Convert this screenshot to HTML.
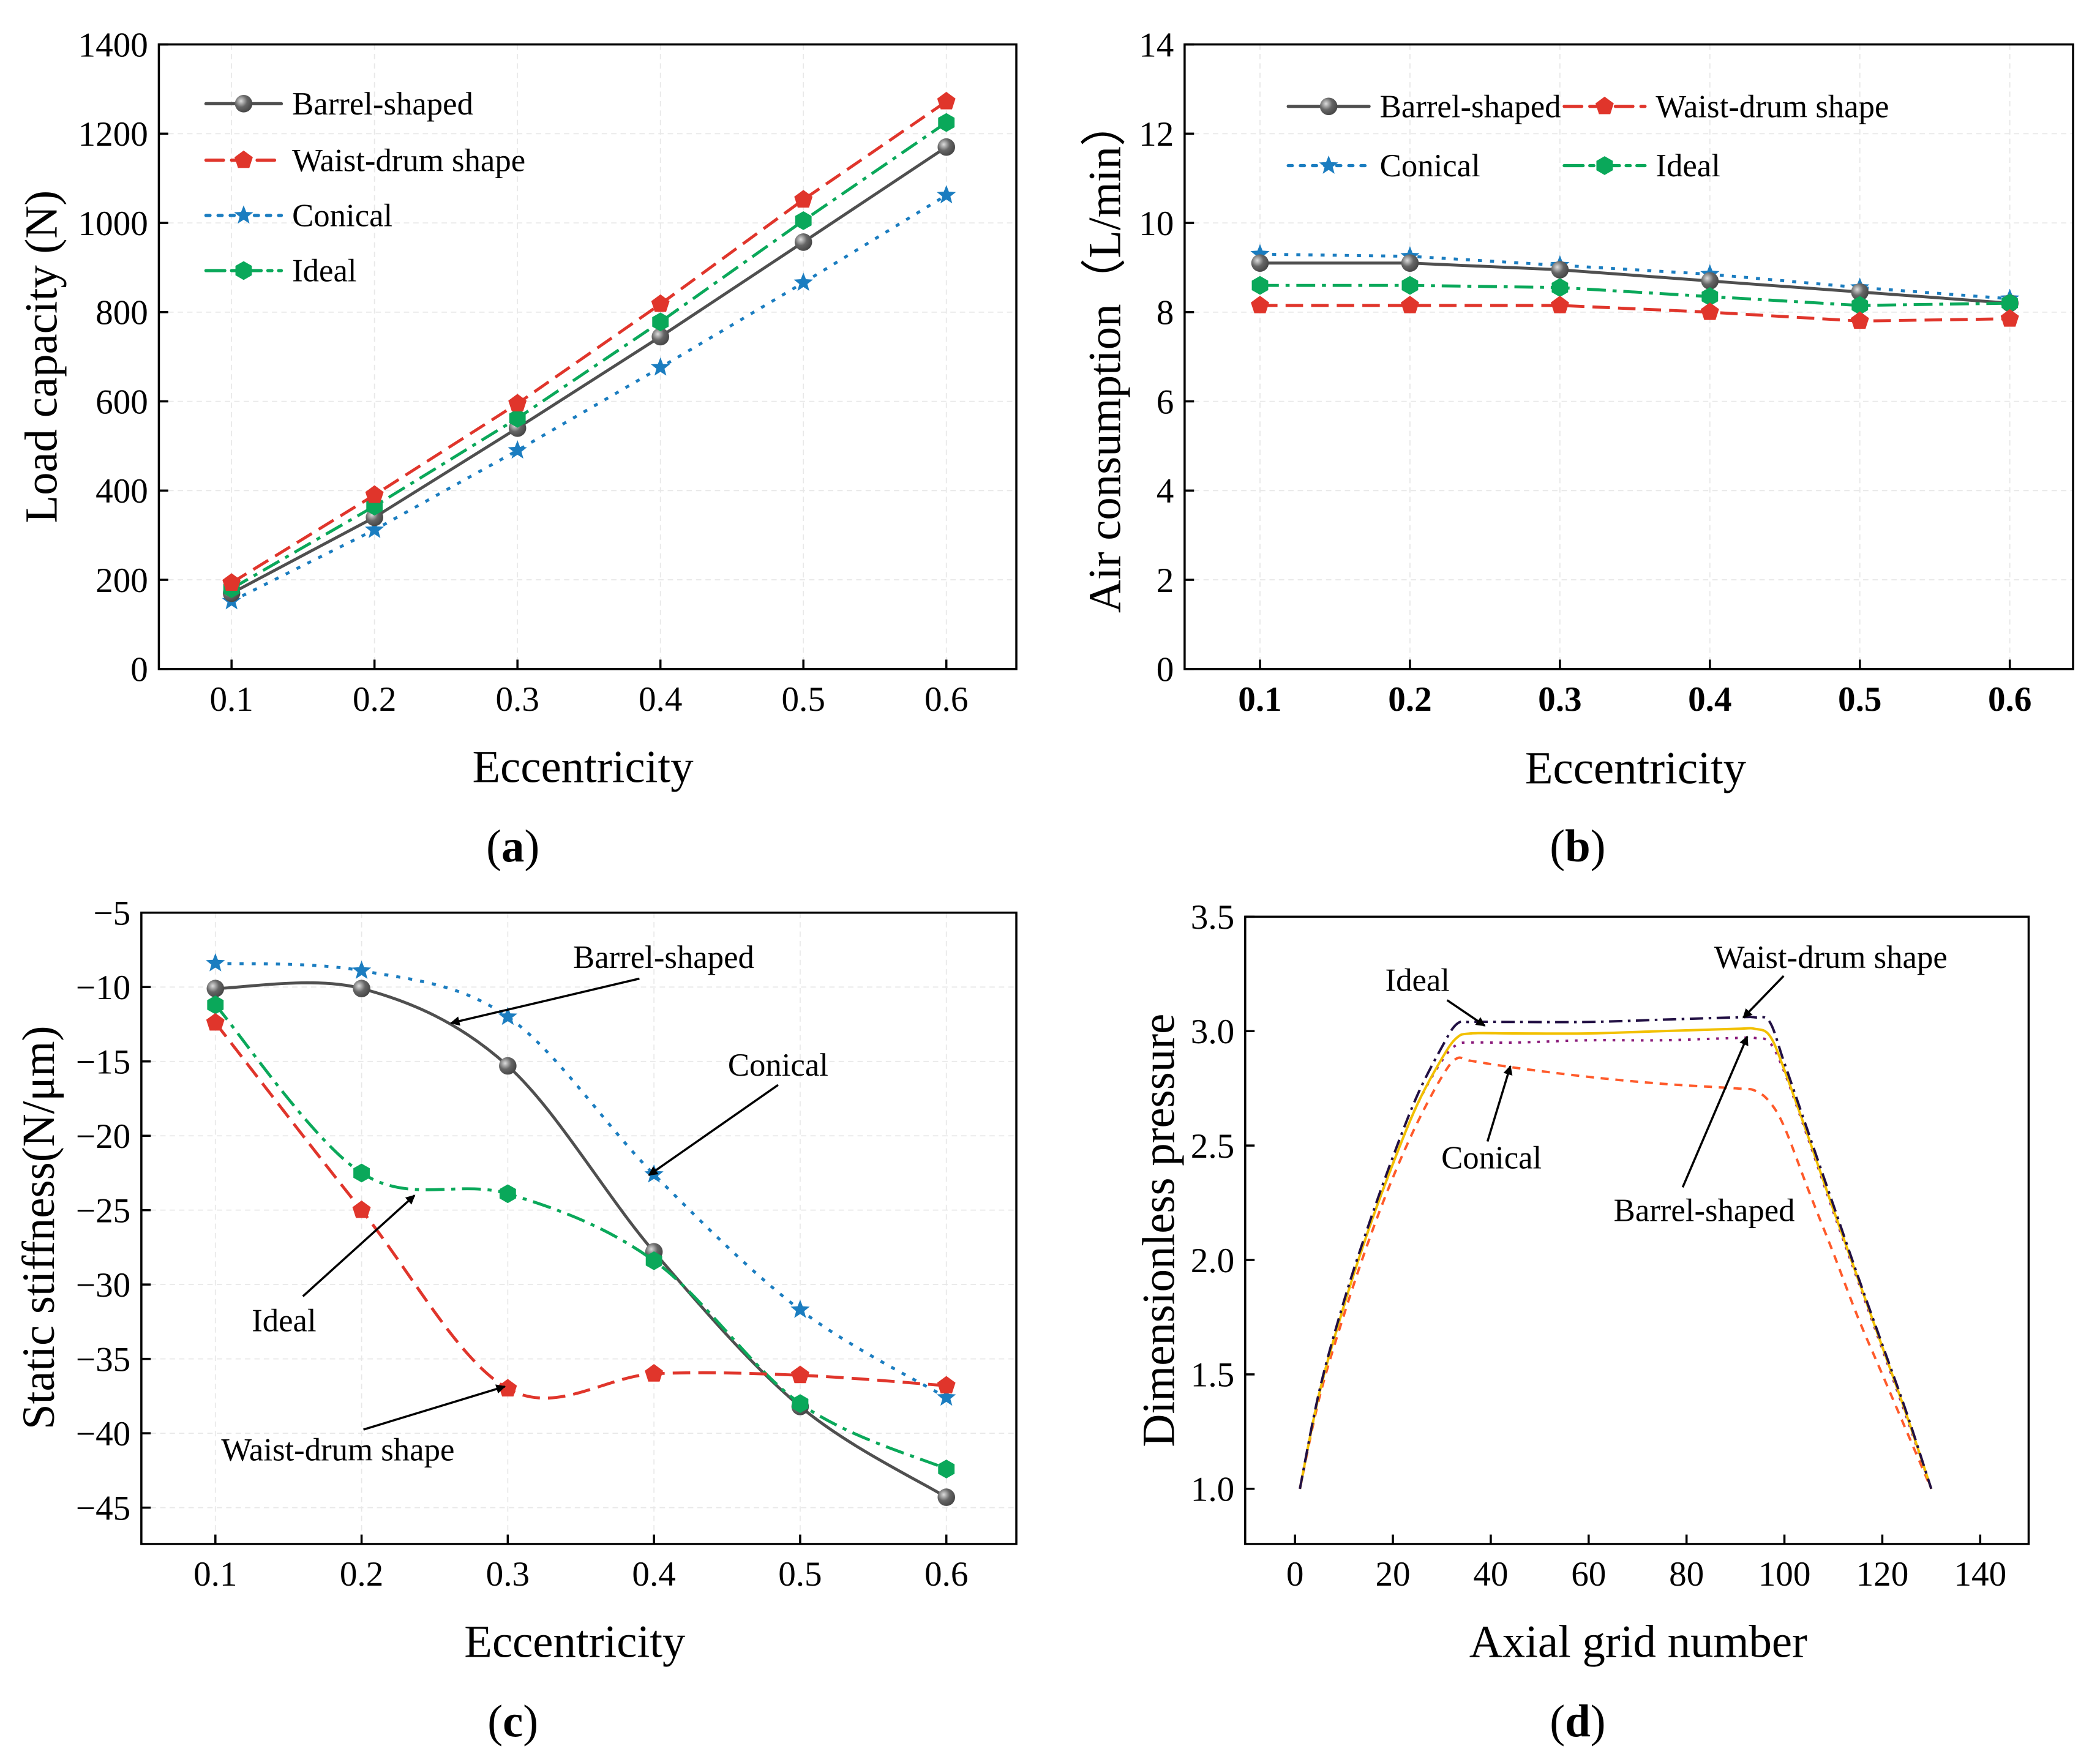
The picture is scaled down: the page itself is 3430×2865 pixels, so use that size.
<!DOCTYPE html>
<html><head><meta charset="utf-8">
<style>
html,body{margin:0;padding:0;background:#fff}
svg{display:block}
svg text{font-family:"Liberation Serif","DejaVu Serif",serif !important;fill:#000}
</style></head>
<body>
<svg id="fig" width="3430" height="2865" viewBox="0 0 1560 1303" xmlns="http://www.w3.org/2000/svg" font-family="Liberation Serif, serif">
<defs>
<marker id="arr" viewBox="0 0 10 10" refX="9" refY="5" markerWidth="9" markerHeight="7" orient="auto" markerUnits="userSpaceOnUse"><path d="M0,0 L10,5 L0,10 z" fill="#000"/></marker>
<radialGradient id="sph" cx="0.35" cy="0.35" r="0.7"><stop offset="0" stop-color="#ddd"/><stop offset="0.5" stop-color="#666"/><stop offset="1" stop-color="#444"/></radialGradient>
</defs>
<g id="root"></g>
</svg>
<script>
const ecc = [0.1,0.2,0.3,0.4,0.5,0.6];
const loadBarrel = [170,340,540,745,957,1170];
const loadWaist = [193,390,595,818,1052,1272];
const loadConical = [152,312,490,676,866,1062];
const loadIdeal = [180,365,562,778,1005,1225];
const airBarrel = [9.1,9.1,8.95,8.7,8.45,8.2];
const airWaist = [8.15,8.15,8.15,8.0,7.8,7.85];
const airConical = [9.3,9.25,9.05,8.85,8.55,8.3];
const airIdeal = [8.6,8.6,8.55,8.35,8.15,8.2];
const stiffBarrel = [-10.1,-10.1,-15.3,-27.8,-38.2,-44.3];
const stiffWaist = [-12.4,-25,-37,-36,-36.1,-36.8];
const stiffConical = [-8.4,-8.9,-12,-22.6,-31.7,-37.6];
const stiffIdeal = [-11.2,-22.5,-23.9,-28.4,-38,-42.4];
const gridX = [1,5,10,15,20,25,30,33,36,45,60,75,90,94,97,100,105,110,115,120,125,130];
const presIdeal = [1.0,1.42,1.8,2.13,2.42,2.68,2.88,2.97,2.99,2.99,2.99,3.0,3.01,3.01,2.98,2.83,2.53,2.22,1.92,1.62,1.32,1.0];
const presWaist = [1.0,1.43,1.82,2.15,2.45,2.72,2.93,3.03,3.04,3.04,3.04,3.05,3.06,3.06,3.04,2.86,2.55,2.24,1.93,1.63,1.33,1.0];
const presBarrel = [1.0,1.42,1.8,2.13,2.42,2.68,2.87,2.94,2.95,2.95,2.96,2.96,2.97,2.97,2.95,2.82,2.52,2.21,1.91,1.61,1.31,1.0];
const presConical = [1.0,1.4,1.76,2.08,2.36,2.6,2.8,2.88,2.87,2.84,2.8,2.77,2.75,2.74,2.69,2.58,2.3,2.03,1.75,1.5,1.25,1.0];
const ticksLoad = [0,200,400,600,800,1000,1200,1400];
const ticksAir = [0,2,4,6,8,10,12,14];
const ticksStiff = [-5,-10,-15,-20,-25,-30,-35,-40,-45];
const ticksPres = [1.0,1.5,2.0,2.5,3.0,3.5];
const ticksGrid = [0,20,40,60,80,100,120,140];

const NS='http://www.w3.org/2000/svg';
const root=document.getElementById('root');
const FF='Liberation Serif, serif';
function mk(tag,attrs,parent){const e=document.createElementNS(NS,tag);for(const k in attrs)e.setAttribute(k,attrs[k]);if(tag==='text')e.setAttribute('font-family',FF);(parent||root).appendChild(e);return e;}
function lin(d0,d1,p0,p1){return v=>p0+(v-d0)*(p1-p0)/(d1-d0);}
function linePath(pts){return pts.map((p,i)=>(i?'L':'M')+p[0].toFixed(1)+','+p[1].toFixed(1)).join(' ');}
function splinePath(pts){let d='M'+pts[0][0]+','+pts[0][1];for(let i=0;i<pts.length-1;i++){const p0=pts[i-1]||pts[i],p1=pts[i],p2=pts[i+1],p3=pts[i+2]||p2;const c1=[p1[0]+(p2[0]-p0[0])/6,p1[1]+(p2[1]-p0[1])/6],c2=[p2[0]-(p3[0]-p1[0])/6,p2[1]-(p3[1]-p1[1])/6];d+=' C'+c1.join(',')+' '+c2.join(',')+' '+p2.join(',');}return d;}
const styles={
 barrel:{c:'#4f4f4f',dash:'',m:'circle'},
 waist:{c:'#e0352b',dash:'13,6',m:'pent'},
 conical:{c:'#1b7dc0',dash:'3,6',m:'star'},
 ideal:{c:'#0aa85a',dash:'14,5,3,5',m:'hex'}};
function marker(g,type,x,y,col){
 const r=6.5;let e;
 if(type==='circle'){e=mk('circle',{cx:x,cy:y,r:r,fill:'url(#sph)'},g);}
 else{let n=type==='pent'?5:(type==='hex'?6:10);let pts=[];
  for(let i=0;i<n;i++){const a=-Math.PI/2+i*2*Math.PI/n;const rr=type==='star'?(i%2?3.2:7.5):(type==='hex'?7:7.2);pts.push((x+rr*Math.cos(a)).toFixed(1)+','+(y+rr*Math.sin(a)).toFixed(1));}
  e=mk('polygon',{points:pts.join(' '),fill:col},g);}
 return e;}
function frame(name){
 const g=mk('g',{});
 
 
 return g;}
function border(g,x0,y0,x1,y1){mk('rect',{x:x0,y:y0,width:x1-x0,height:y1-y0,fill:'none',stroke:'#000','stroke-width':1.6},g);}
function grid(g,x0,y0,x1,y1,xs,ys){
 xs.forEach(x=>mk('line',{x1:x,x2:x,y1:y0,y2:y1,stroke:'#e8e8e8','stroke-width':0.8,'stroke-dasharray':'4,3'},g));
 ys.forEach(y=>mk('line',{x1:x0,x2:x1,y1:y,y2:y,stroke:'#e8e8e8','stroke-width':0.8,'stroke-dasharray':'4,3'},g));}
function yTicks(g,x0,ticks,sy,fmt){
 ticks.forEach(t=>{const y=sy(t);mk('line',{x1:x0,x2:x0+7,y1:y,y2:y,stroke:'#000','stroke-width':1.6},g);
 const tx=mk('text',{x:x0-8,y:y+9,'text-anchor':'end','font-size':26},g);tx.textContent=fmt(t);
 
 });}
function xTicks(g,y0,ticks,sx,fmt,bold){
 ticks.forEach(t=>{const x=sx(t);mk('line',{x1:x,x2:x,y1:y0,y2:y0-7,stroke:'#000','stroke-width':1.6},g);
 const tx=mk('text',{x:x,y:y0+31,'text-anchor':'middle','font-size':26,'font-weight':bold?'bold':'normal'},g);tx.textContent=fmt(t);
 
 });}
function label(txt,x,y,fs,rot,name){
 const t=mk('text',{x:x,y:y,'text-anchor':'middle','font-size':fs,transform:rot?`rotate(-90 ${x} ${y})`:''});t.textContent=txt;
 
 return t;}
function series(g,key,xs,ys,sx,sy,smooth,nameP){
 const s=styles[key];const pts=xs.map((x,i)=>[sx(x),sy(ys[i])]);
 const p=mk('path',{d:smooth?splinePath(pts):linePath(pts),fill:'none',stroke:s.c,'stroke-width':2.2,'stroke-dasharray':s.dash},g);
 
 
 pts.forEach(q=>{const m=marker(g,s.m,q[0],q[1],s.c);
  
  });}
function legendEntry(g,key,x,y,txt,len){
 const s=styles[key];
 mk('line',{x1:x,x2:x+len,y1:y,y2:y,stroke:s.c,'stroke-width':2.4,'stroke-dasharray':s.dash,'stroke-linecap':'round'},g);
 marker(g,s.m,x+len/2,y,s.c);
 const t=mk('text',{x:x+len+8,y:y+8,'font-size':24},g);t.textContent=txt;
 
 }
function arrow(g,x1,y1,x2,y2){mk('line',{x1:x1,y1:y1,x2:x2,y2:y2,stroke:'#000','stroke-width':1.6,'marker-end':'url(#arr)'},g);}
function annot(g,txt,x,y){const t=mk('text',{x:x,y:y,'text-anchor':'middle','font-size':24},g);t.textContent=txt;
 
 }

// Panel a
{const x0=118,y0=33,x1=755,y1=497;const sx=lin(0.1,0.6,172,703),sy=lin(0,1400,497,33);
 const g=frame('panel-a');
 grid(g,x0,y0,x1,y1,ecc.map(sx),ticksLoad.map(sy));border(g,x0,y0,x1,y1);
 yTicks(g,x0,ticksLoad,sy,t=>t);xTicks(g,y1,ecc,sx,t=>t.toFixed(1));
 series(g,'conical',ecc,loadConical,sx,sy,false,'a');series(g,'barrel',ecc,loadBarrel,sx,sy,false,'a');
 series(g,'ideal',ecc,loadIdeal,sx,sy,false,'a');series(g,'waist',ecc,loadWaist,sx,sy,false,'a');
 legendEntry(g,'barrel',153,77,'Barrel-shaped',56);legendEntry(g,'waist',153,119,'Waist-drum shape',56);
 legendEntry(g,'conical',153,160,'Conical',56);legendEntry(g,'ideal',153,201,'Ideal',56);
 label('Eccentricity',433,581,34,false,'x-axis-title-a');label('Load capacity (N)',42,265,34,true,'y-axis-title-a');}
// Panel b
{const x0=880,y0=33,x1=1540,y1=497;const sx=lin(0.1,0.6,936,1493),sy=lin(0,14,497,33);
 const g=frame('panel-b');
 grid(g,x0,y0,x1,y1,ecc.map(sx),ticksAir.map(sy));border(g,x0,y0,x1,y1);
 yTicks(g,x0,ticksAir,sy,t=>t);xTicks(g,y1,ecc,sx,t=>t.toFixed(1),true);
 series(g,'conical',ecc,airConical,sx,sy,false,'b');series(g,'barrel',ecc,airBarrel,sx,sy,false,'b');
 series(g,'ideal',ecc,airIdeal,sx,sy,false,'b');series(g,'waist',ecc,airWaist,sx,sy,false,'b');
 legendEntry(g,'barrel',957,79,'Barrel-shaped',60);legendEntry(g,'waist',1162,79,'Waist-drum shape',60);
 legendEntry(g,'conical',957,123,'Conical',60);legendEntry(g,'ideal',1162,123,'Ideal',60);
 label('Eccentricity',1215,582,34,false,'x-axis-title-b');label('Air consumption（L/min）',832,265,34,true,'y-axis-title-b');}
// Panel c
{const x0=105,y0=678,x1=755,y1=1147;const sx=lin(0.1,0.6,160,703),sy=lin(-5,-45,678,1120);
 const g=frame('panel-c');
 grid(g,x0,y0,x1,y1,ecc.map(sx),ticksStiff.map(sy));border(g,x0,y0,x1,y1);
 yTicks(g,x0,ticksStiff,sy,t=>'−'+Math.abs(t));xTicks(g,y1,ecc,sx,t=>t.toFixed(1));
 series(g,'conical',ecc,stiffConical,sx,sy,true,'c');series(g,'barrel',ecc,stiffBarrel,sx,sy,true,'c');
 series(g,'ideal',ecc,stiffIdeal,sx,sy,true,'c');series(g,'waist',ecc,stiffWaist,sx,sy,true,'c');
 annot(g,'Barrel-shaped',493,719);arrow(g,475,727,335,760);
 annot(g,'Conical',578,799);arrow(g,578,806,482,873);
 annot(g,'Ideal',211,989);arrow(g,225,963,308,888);
 annot(g,'Waist-drum shape',251,1085);arrow(g,270,1062,375,1030);
 label('Eccentricity',427,1231,34,false,'x-axis-title-c');label('Static stiffness(N/μm)',40,912,34,true,'y-axis-title-c');}
// Panel d
{const x0=925,y0=681,x1=1507,y1=1147;const sx=lin(0,140,962,1471),sy=lin(1.0,3.5,1106,681);
 const g=frame('panel-d');border(g,x0,y0,x1,y1);
 yTicks(g,x0,ticksPres,sy,t=>t.toFixed(1));xTicks(g,y1,ticksGrid,sx,t=>t);
 const dd=[['presConical',presConical,'#ff5a2a','6,5'],['presBarrel',presBarrel,'#8a1a7a','2,5'],['presIdeal',presIdeal,'#f2c000',''],['presWaist',presWaist,'#221044','10,4,2,4']];
 dd.forEach(d=>{const pts=gridX.map((x,i)=>[sx(x),sy(d[1][i])]);
  const p=mk('path',{d:splinePath(pts),fill:'none',stroke:d[2],'stroke-width':1.8,'stroke-dasharray':d[3]},g);
  
  });
 annot(g,'Ideal',1053,736);arrow(g,1075,743,1103,762);
 annot(g,'Waist-drum shape',1360,719);arrow(g,1325,725,1295,756);
 annot(g,'Conical',1108,868);arrow(g,1105,848,1122,792);
 annot(g,'Barrel-shaped',1266,907);arrow(g,1250,882,1298,770);
 label('Axial grid number',1217,1231,34,false,'x-axis-title-d');label('Dimensionless pressure',872,914,34,true,'y-axis-title-d');}
// panel labels
[['a',381,640],['b',1172,640],['c',381,1290],['d',1172,1290]].forEach(p=>{
 const t=mk('text',{x:p[1],y:p[2],'text-anchor':'middle','font-size':34});
 t.appendChild(document.createTextNode('('));
 const b=mk('tspan',{'font-weight':'bold'},t);b.textContent=p[0];
 t.appendChild(document.createTextNode(')'));
 
 });
</script>
</body></html>
